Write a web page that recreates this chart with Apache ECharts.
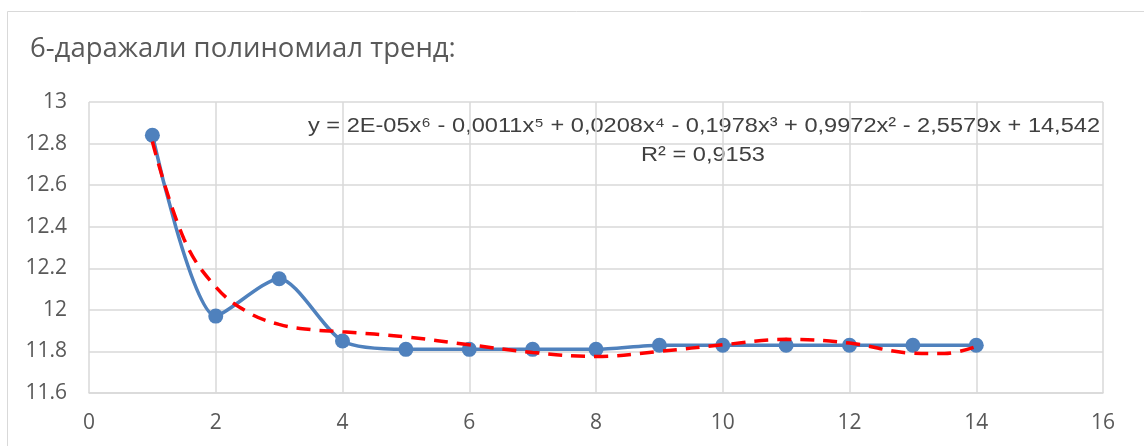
<!DOCTYPE html>
<html>
<head>
<meta charset="utf-8">
<script src="https://cdn.jsdelivr.net/npm/echarts@6/dist/echarts.min.js"></script>
<style>
  html, body { margin: 0; padding: 0; background: #ffffff; }
  #chart { width: 1144px; height: 446px; }
</style>
</head>
<body>
<div id="chart"></div>
<script>
// Observed values (x = 1..14)
const xValues = [1, 2, 3, 4, 5, 6, 7, 8, 9, 10, 11, 12, 13, 14];
const yValues = [12.84, 11.97, 12.15, 11.85, 11.81, 11.81, 11.81, 11.81, 11.83, 11.83, 11.83, 11.83, 11.83, 11.83];

// 6th-degree polynomial trend line, sampled along x
const trendX = [1, 1.5, 2, 2.5, 3, 3.5, 4, 5, 6, 7, 8, 9, 10, 11, 12, 13, 13.5, 14];
const trendY = [12.81, 12.34, 12.11, 11.99, 11.93, 11.905, 11.895, 11.87, 11.832, 11.795, 11.776, 11.80, 11.832, 11.858, 11.84, 11.792, 11.79, 11.824];

const titleText = '6-даражали полиномиал тренд:';
const equationText = 'y = 2E-05x⁶ - 0,0011x⁵ + 0,0208x⁴ - 0,1978x³ + 0,9972x² - 2,5579x + 14,542';
const r2Text = 'R² = 0,9153';

// Condense the trendline label to a narrow width (the label font is a condensed face)
const labelFont = '20px "Liberation Sans"';
const measureCtx = document.createElement('canvas').getContext('2d');
measureCtx.font = labelFont;
const labelScaleX = 792 / measureCtx.measureText(equationText).width;

const chart = echarts.init(document.getElementById('chart'));
const pair = (xs, ys) => xs.map((x, i) => [x, ys[i]]);

const labelStyle = (text) => ({
  text: text, x: 0, y: 0, align: 'center', verticalAlign: 'middle',
  fontFamily: 'Liberation Sans', fontSize: 20, fill: '#404040'
});

const option = {
  animation: false,
  backgroundColor: '#ffffff',
  title: {
    text: titleText,
    left: 25,
    top: 30,
    textStyle: { fontFamily: 'Open Sans', fontSize: 27.5, fontWeight: 'normal', color: '#595959' }
  },
  graphic: [
    {
      type: 'rect', left: 5, top: 9, silent: true,
      shape: { width: 1200, height: 500 },
      style: { fill: 'none', stroke: '#d9d9d9', lineWidth: 1 }
    },
    { type: 'text', x: 704, y: 126, scaleX: labelScaleX, silent: true, style: labelStyle(equationText) },
    { type: 'text', x: 703, y: 155, scaleX: labelScaleX, silent: true, style: labelStyle(r2Text) }
  ],
  grid: { left: 89, right: 41, top: 102, bottom: 53 },
  xAxis: {
    type: 'value', min: 0, max: 16, interval: 2,
    axisLine: { show: true, lineStyle: { color: '#d9d9d9', width: 1.5 } },
    axisTick: { show: false },
    splitLine: { show: true, lineStyle: { color: '#d9d9d9', width: 1.5 } },
    axisLabel: { fontFamily: 'Open Sans', fontSize: 21, color: '#595959', margin: 20 }
  },
  yAxis: {
    type: 'value', min: 11.6, max: 13, interval: 0.2,
    axisLine: { show: false },
    axisTick: { show: false },
    splitLine: { show: true, lineStyle: { color: '#d9d9d9', width: 1.5 } },
    axisLabel: {
      fontFamily: 'Open Sans', fontSize: 21, color: '#595959', margin: 22,
      formatter: v => String(Math.round(v * 10) / 10)
    }
  },
  series: [
    {
      type: 'line',
      data: pair(xValues, yValues),
      smooth: 0.25,
      symbol: 'circle',
      symbolSize: 15,
      itemStyle: { color: '#4F81BD' },
      lineStyle: { color: '#4F81BD', width: 3.5 },
      z: 2
    },
    {
      type: 'line',
      data: pair(trendX, trendY),
      smooth: 0.4,
      symbol: 'none',
      lineStyle: { color: '#ff0000', width: 3.5, type: [14, 9] },
      z: 3
    }
  ]
};
chart.setOption(option);
</script>
</body>
</html>
